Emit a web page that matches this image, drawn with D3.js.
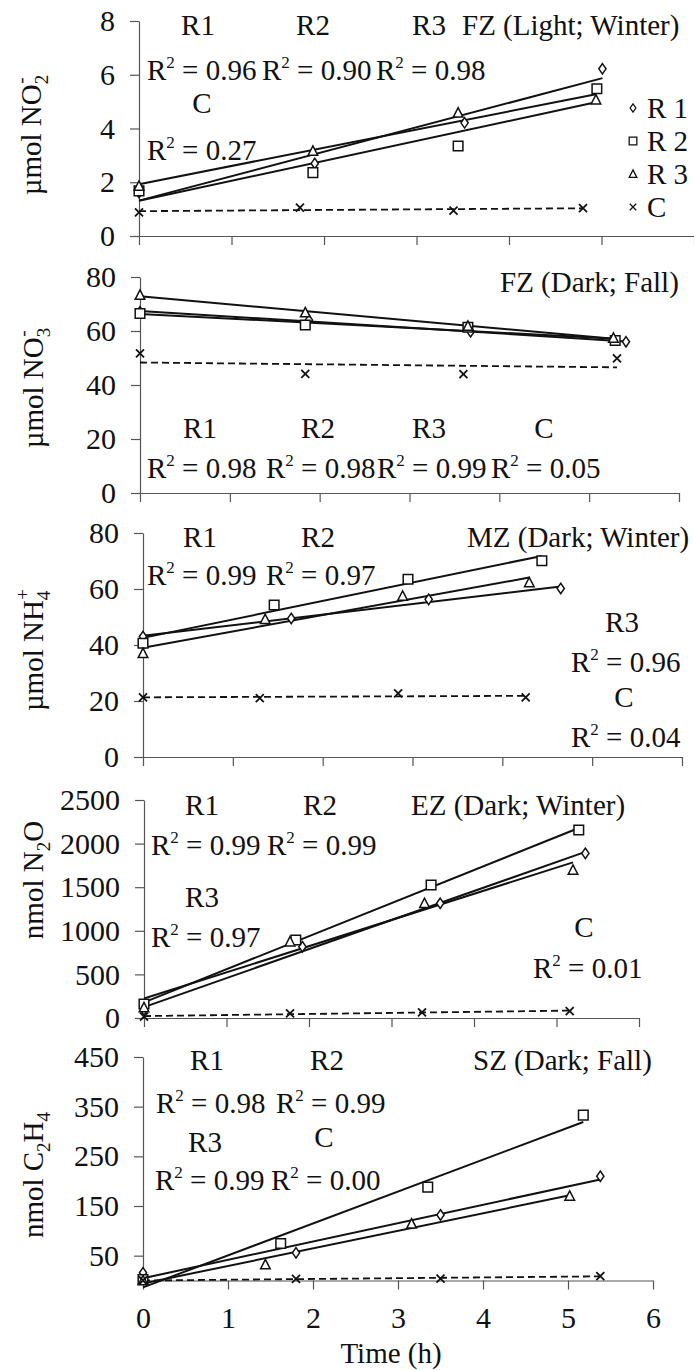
<!DOCTYPE html>
<html>
<head>
<meta charset="utf-8">
<script src="https://cdn.jsdelivr.net/npm/d3@7"></script>
<style>
  html, body { margin: 0; padding: 0; background: #fff; }
  svg { display: block; }
  svg text { font-family: "Liberation Serif", "DejaVu Serif", "Times New Roman", Times, serif; }
</style>
</head>
<body>
<svg id="chart" width="694" height="1370" font-family="Liberation Serif, DejaVu Serif, serif"></svg>
<script>
// ---------- data ----------
const seriesKeys = ["R1", "R2", "R3", "C"];
const legendLabels = ["R 1", "R 2", "R 3", "C"];
const hourTicks = [0, 1, 2, 3, 4, 5, 6];

// FZ (Light; Winter) – NO2-
const no2Times  = [[0, 1.90, 3.52, 5.01], [0, 1.88, 3.45, 4.95], [0, 1.88, 3.45, 4.94], [0, 1.74, 3.40, 4.80]];
const no2Values = [[1.62, 2.70, 4.21, 6.22], [1.68, 2.36, 3.35, 5.48], [1.86, 3.16, 4.58, 5.07], [0.88, 1.06, 0.94, 1.04]];
const no2R2 = ["0.96", "0.90", "0.98", "0.27"];
const no2Ticks = [0, 2, 4, 6, 8];

// FZ (Dark; Fall) – NO3-
const no3Times  = [[0, 1.88, 3.68, 5.41], [0, 1.84, 3.65, 5.29], [0, 1.84, 3.65, 5.27], [0, 1.84, 3.60, 5.31]];
const no3Values = [[67.1, 64.1, 59.7, 56.0], [66.5, 62.2, 61.4, 56.5], [73.3, 66.8, 61.8, 57.4], [51.7, 44.1, 44.0, 49.9]];
const no3R2 = ["0.98", "0.98", "0.99", "0.05"];
const no3Ticks = [0, 20, 40, 60, 80];

// MZ (Dark; Winter) – NH4+
const nh4Times  = [[0, 1.65, 3.18, 4.65], [0, 1.46, 2.95, 4.44], [0, 1.36, 2.89, 4.30], [0, 1.30, 2.84, 4.26]];
const nh4Values = [[43.0, 49.5, 56.3, 60.2], [40.6, 54.3, 63.5, 70.1], [37.0, 49.2, 57.5, 62.3], [21.3, 21.0, 22.7, 21.3]];
const nh4R2 = ["0.99", "0.97", "0.96", "0.04"];
const nh4Ticks = [0, 20, 40, 60, 80];

// EZ (Dark; Winter) – N2O
const n2oTimes  = [[0, 1.92, 3.59, 5.35], [0, 1.84, 3.48, 5.27], [0, 1.77, 3.40, 5.20], [0, 1.77, 3.37, 5.16]];
const n2oValues = [[92, 818, 1315, 1888], [160, 894, 1525, 2156], [120, 875, 1315, 1697], [15, 53, 65, 80]];
const n2oR2 = ["0.99", "0.99", "0.97", "0.01"];
const n2oTicks = [0, 500, 1000, 1500, 2000, 2500];

// SZ (Dark; Fall) – C2H4
const c2h4Times  = [[0, 1.80, 3.50, 5.38], [0, 1.62, 3.35, 5.18], [0, 1.44, 3.16, 5.02], [0, 1.80, 3.50, 5.38]];
const c2h4Values = [[15.5, 55.7, 132, 210], [2, 74.5, 188, 333], [0, 32, 114, 170], [0, 3.5, 4, 9]];
const c2h4R2 = ["0.98", "0.99", "0.99", "0.00"];
const c2h4Ticks = [50, 150, 250, 350, 450];

// ---------- panel layout ----------
const panels = [
  { times: no2Times, values: no2Values, r2: no2R2, ticks: no2Ticks, yMax: 8,
    xr: [139, 694], yr: [236, 21],
    title: "FZ (Light; Winter)", titlePos: [462, 25],
    ylab: { main: "\u00B5mol NO", sub: "2", sup: "-" }, ylabPos: [31, 135],
    labelPos: [[198, 25], [313, 25], [429, 25], [202, 103]],
    r2Pos: [[147, 70], [262, 70], [376, 70], [147, 150]],
    legend: true },
  { times: no3Times, values: no3Values, r2: no3R2, ticks: no3Ticks, yMax: 80,
    xr: [140, 679], yr: [493, 277],
    title: "FZ (Dark; Fall)", titlePos: [500, 282],
    ylab: { main: "\u00B5mol NO", sub: "3", sup: "-" }, ylabPos: [33, 388],
    labelPos: [[200, 428], [318, 428], [429, 428], [544, 428]],
    r2Pos: [[147, 468], [266, 468], [377, 468], [491, 468]] },
  { times: nh4Times, values: nh4Values, r2: nh4R2, ticks: nh4Ticks, yMax: 80,
    xr: [143, 682], yr: [757, 533],
    title: "MZ (Dark; Winter)", titlePos: [467, 537],
    ylab: { main: "\u00B5mol NH", sub: "4", sup: "+" }, ylabPos: [33, 650],
    labelPos: [[200, 537], [318, 537], [622, 622], [624, 697]],
    r2Pos: [[147, 575], [266, 575], [571, 662], [571, 737]] },
  { times: n2oTimes, values: n2oValues, r2: n2oR2, ticks: n2oTicks, yMax: 2500,
    xr: [144, 639], yr: [1018, 800],
    title: "EZ (Dark; Winter)", titlePos: [411, 805],
    ylab: { main: "nmol N", sub: "2", after: "O" }, ylabPos: [33, 880],
    labelPos: [[202, 805], [320, 805], [202, 897], [584, 927]],
    r2Pos: [[151, 845], [267, 845], [151, 937], [533, 968]] },
  { times: c2h4Times, values: c2h4Values, r2: c2h4R2, ticks: c2h4Ticks, yMax: 450,
    xr: [143, 653], yr: [1280.5, 1057],
    title: "SZ (Dark; Fall)", titlePos: [473, 1060],
    ylab: { main: "nmol C", sub: "2", after: "H", sub2: "4" }, ylabPos: [33, 1175],
    labelPos: [[207, 1060], [327, 1060], [205, 1142], [324, 1137]],
    r2Pos: [[156, 1103], [276, 1103], [155, 1180], [271, 1180]],
    xLabels: true }
];

const FONT = 29;
const TICK_FONT = 30;
const SERIF = "Liberation Serif, DejaVu Serif, serif";
const AXIS_COLOR = "#555";

// ---------- marker shapes ----------
const markerPath = {
  R1: "M0,-5.2L3.6,0L0,5.2L-3.6,0Z",
  R2: "M-4.8,-4.8H4.8V4.8H-4.8Z",
  R3: "M0,-5.2L4.8,4.2H-4.8Z",
  C:  "M-4,-4L4,4M-4,4L4,-4"
};

function linFit(ts, vs) {
  const mt = d3.mean(ts), mv = d3.mean(vs);
  const sxy = d3.sum(ts, (t, i) => (t - mt) * (vs[i] - mv));
  const sxx = d3.sum(ts, t => (t - mt) * (t - mt));
  const slope = sxy / sxx;
  return { slope, intercept: mv - slope * mt };
}

const svg = d3.select("#chart");

function txt(g, x, y) {
  return g.append("text").attr("x", x).attr("y", y)
    .attr("font-family", SERIF).attr("font-size", FONT).attr("fill", "#111");
}

function addR2(g, value, x, cy) {
  const t = txt(g, x, cy + 10);
  t.append("tspan").text("R");
  t.append("tspan").text("2").attr("font-size", 17).attr("dy", -12);
  t.append("tspan").text(" = " + value).attr("dy", 12);
}

panels.forEach((p, pi) => {
  const g = svg.append("g").attr("class", "panel-" + pi);
  const x = d3.scaleLinear().domain([0, 6]).range(p.xr);
  const y = d3.scaleLinear().domain([0, p.yMax]).range(p.yr);

  // axes
  const xAxis = d3.axisBottom(x).tickValues(hourTicks).tickSize(9).tickSizeOuter(0)
    .tickPadding(17).tickFormat(p.xLabels ? d3.format("d") : () => "");
  const gx = g.append("g").attr("transform", `translate(0,${p.yr[0]})`).call(xAxis);
  const yAxis = d3.axisLeft(y).tickValues(p.ticks).tickSize(9).tickSizeOuter(0)
    .tickPadding(15).tickFormat(d3.format("d"));
  const gy = g.append("g").attr("transform", `translate(${p.xr[0]},0)`).call(yAxis);
  [gx, gy].forEach(a => {
    a.attr("font-family", SERIF).attr("font-size", TICK_FONT);
    a.selectAll("path, line").attr("stroke", AXIS_COLOR).attr("stroke-width", 1.2);
    a.selectAll("text").attr("fill", "#111").attr("font-family", SERIF);
  });

  // regression lines
  p.times.forEach((ts, si) => {
    const f = linFit(ts, p.values[si]);
    const tEnd = d3.max(ts);
    g.append("line")
      .attr("x1", x(0)).attr("y1", y(f.intercept))
      .attr("x2", x(tEnd)).attr("y2", y(f.intercept + f.slope * tEnd))
      .attr("stroke", "#111").attr("stroke-width", seriesKeys[si] === "C" ? 1.8 : 2)
      .attr("stroke-dasharray", seriesKeys[si] === "C" ? "7,4" : null);
  });

  // markers
  p.times.forEach((ts, si) => {
    const key = seriesKeys[si];
    g.selectAll(null).data(ts.map((t, i) => [t, p.values[si][i]])).enter()
      .append("path")
      .attr("d", markerPath[key])
      .attr("transform", d => `translate(${x(d[0])},${y(d[1])})`)
      .attr("fill", key === "C" ? "none" : "#fff")
      .attr("stroke", "#111").attr("stroke-width", key === "C" ? 1.8 : 1.5);
  });

  // panel title
  txt(g, p.titlePos[0], p.titlePos[1] + 10).text(p.title);

  // series labels and R² values
  seriesKeys.forEach((k, si) => {
    txt(g, p.labelPos[si][0], p.labelPos[si][1] + 10).attr("text-anchor", "middle").text(k);
    addR2(g, p.r2[si], p.r2Pos[si][0], p.r2Pos[si][1]);
  });

  // y-axis title
  const yt = txt(g, 0, 0)
    .attr("transform", `translate(${p.ylabPos[0] + 10},${p.ylabPos[1]}) rotate(-90)`)
    .attr("text-anchor", "middle");
  yt.append("tspan").text(p.ylab.main);
  yt.append("tspan").text(p.ylab.sub).attr("font-size", 19).attr("dy", 7);
  if (p.ylab.sup) {
    yt.append("tspan").text(p.ylab.sup).attr("font-size", 19).attr("dx", -9).attr("dy", -21);
  }
  if (p.ylab.after) {
    yt.append("tspan").text(p.ylab.after).attr("dy", -7);
  }
  if (p.ylab.sub2) {
    yt.append("tspan").text(p.ylab.sub2).attr("font-size", 19).attr("dy", 7);
  }

  // legend
  if (p.legend) {
    const rows = [108, 141, 174, 207];
    seriesKeys.forEach((k, si) => {
      g.append("path").attr("d", markerPath[k])
        .attr("transform", `translate(633,${rows[si]}) scale(0.8)`)
        .attr("fill", "none").attr("stroke", "#111").attr("stroke-width", 1.6);
      txt(g, 647, rows[si] + 10).text(legendLabels[si]);
    });
  }

  // x-axis title
  if (p.xLabels) {
    txt(g, 391, 1363).attr("text-anchor", "middle").text("Time (h)");
  }
});
</script>
</body>
</html>
